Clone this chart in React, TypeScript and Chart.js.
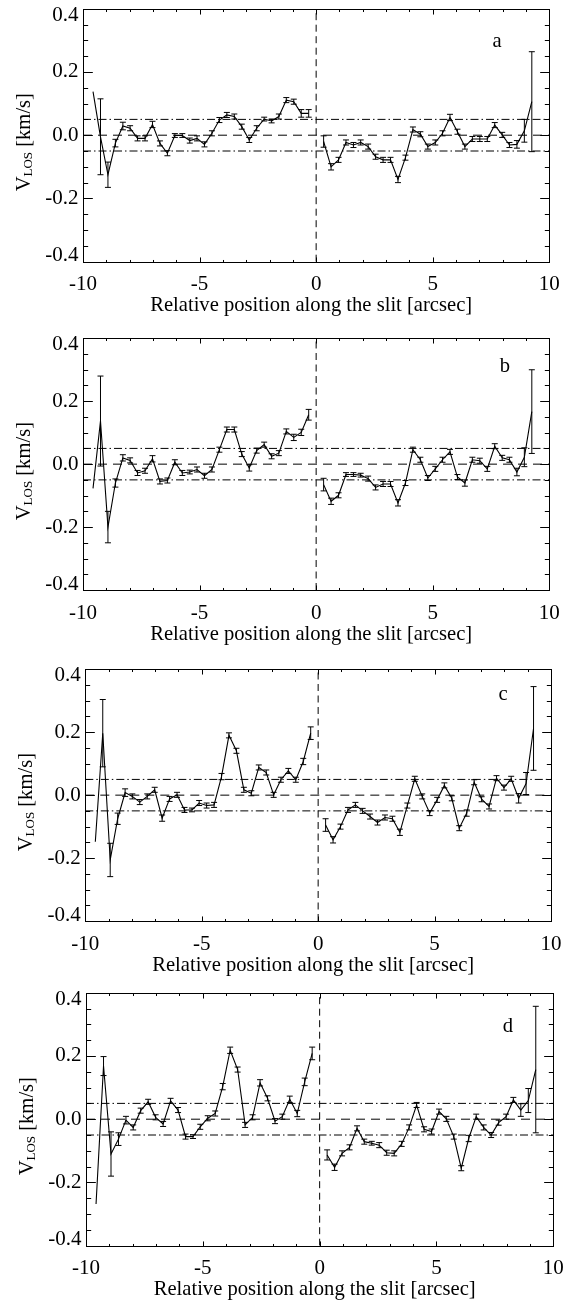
import { useEffect, useRef } from "react";
import { Chart, registerables } from "chart.js";

Chart.register(...registerables);

// Slit positions [arcsec] (the central pixel at 0 is not sampled)
const positions = [
  -9.57, -9.25, -8.93, -8.61, -8.29, -7.98, -7.66, -7.34, -7.02, -6.7,
  -6.38, -6.06, -5.74, -5.42, -5.11, -4.79, -4.47, -4.15, -3.83, -3.51,
  -3.19, -2.87, -2.55, -2.23, -1.91, -1.6, -1.28, -0.96, -0.64, -0.32,
  0.32, 0.64, 0.96, 1.28, 1.6, 1.91, 2.23, 2.55, 2.87, 3.19,
  3.51, 3.83, 4.15, 4.47, 4.79, 5.11, 5.42, 5.74, 6.06, 6.38,
  6.7, 7.02, 7.34, 7.66, 7.98, 8.29, 8.61, 8.93, 9.25,
];

// Line-of-sight velocities [km/s] and their errors, one pair per panel
const velA = [
  0.138, -0.005, -0.125, -0.025, 0.029, 0.022, -0.01, -0.01, 0.034, -0.026,
  -0.057, -0.001, -0.001, -0.017, -0.01, -0.029, 0.006, 0.048, 0.064, 0.059,
  0.027, -0.015, 0.022, 0.051, 0.045, 0.059, 0.111, 0.106, 0.069, 0.069,
  -0.02, -0.1, -0.078, -0.023, -0.031, -0.023, -0.036, -0.068, -0.078, -0.078,
  -0.14, -0.071, 0.018, 0.003, -0.036, -0.023, 0.006, 0.056, 0.011, -0.036,
  -0.012, -0.012, -0.012, 0.032, 0.001, -0.031, -0.029, 0.014, 0.106,
];
const errA = [
  0, 0.12, 0.04, 0.012, 0.012, 0.008, 0.008, 0.008, 0.01, 0.008,
  0.008, 0.006, 0.006, 0.008, 0.008, 0.008, 0.008, 0.008, 0.008, 0.008,
  0.008, 0.008, 0.008, 0.006, 0.006, 0.008, 0.008, 0.008, 0.012, 0.012,
  0.018, 0.01, 0.008, 0.008, 0.008, 0.008, 0.008, 0.008, 0.008, 0.008,
  0.01, 0.008, 0.008, 0.008, 0.008, 0.008, 0.008, 0.01, 0.008, 0.008,
  0.008, 0.008, 0.008, 0.008, 0.008, 0.008, 0.012, 0.036, 0.158,
];

const velB = [
  -0.077, 0.137, -0.2, -0.06, 0.02, 0.012, -0.028, -0.021, 0.017, -0.055,
  -0.052, 0.006, -0.028, -0.025, -0.017, -0.037, -0.017, 0.046, 0.11, 0.11,
  0.032, -0.012, 0.043, 0.062, 0.025, 0.035, 0.104, 0.085, 0.101, 0.157,
  -0.065, -0.118, -0.099, -0.033, -0.033, -0.035, -0.046, -0.074, -0.063, -0.063,
  -0.123, -0.06, 0.046, 0.014, -0.044, -0.015, 0.014, 0.039, -0.041, -0.06,
  0.014, 0.011, -0.015, 0.057, 0.02, 0.014, -0.025, 0.022, 0.167,
];
const errB = [
  0, 0.143, 0.05, 0.013, 0.01, 0.008, 0.008, 0.008, 0.01, 0.008,
  0.008, 0.008, 0.008, 0.006, 0.008, 0.008, 0.008, 0.008, 0.008, 0.008,
  0.008, 0.01, 0.008, 0.008, 0.008, 0.008, 0.008, 0.01, 0.01, 0.017,
  0.02, 0.01, 0.008, 0.006, 0.006, 0.006, 0.008, 0.008, 0.008, 0.008,
  0.01, 0.008, 0.008, 0.008, 0.008, 0.008, 0.008, 0.008, 0.008, 0.01,
  0.008, 0.008, 0.008, 0.008, 0.008, 0.008, 0.012, 0.03, 0.133,
];

const velC = [
  -0.148, 0.197, -0.206, -0.075, 0.008, -0.004, -0.022, -0.004, 0.017, -0.073,
  -0.012, 0.001, -0.047, -0.047, -0.025, -0.033, -0.031, 0.059, 0.19, 0.141,
  0.017, 0.006, 0.088, 0.072, 0.001, 0.049, 0.077, 0.049, 0.107, 0.197,
  -0.095, -0.142, -0.1, -0.047, -0.031, -0.05, -0.068, -0.087, -0.071, -0.075,
  -0.118, -0.033, 0.052, -0.004, -0.057, -0.015, 0.031, -0.01, -0.105, -0.057,
  0.041, -0.013, -0.036, 0.054, 0.024, 0.052, -0.01, 0.037, 0.212,
];
const errC = [
  0, 0.107, 0.053, 0.018, 0.012, 0.008, 0.008, 0.008, 0.008, 0.01,
  0.008, 0.008, 0.008, 0.006, 0.008, 0.008, 0.008, 0.01, 0.008, 0.008,
  0.008, 0.008, 0.008, 0.008, 0.008, 0.008, 0.008, 0.008, 0.01, 0.02,
  0.02, 0.01, 0.008, 0.008, 0.008, 0.008, 0.008, 0.008, 0.008, 0.008,
  0.01, 0.008, 0.008, 0.008, 0.008, 0.008, 0.008, 0.008, 0.008, 0.01,
  0.008, 0.008, 0.008, 0.008, 0.008, 0.008, 0.015, 0.035, 0.133,
];

const velD = [
  -0.268, 0.168, -0.11, -0.063, -0.003, -0.026, 0.027, 0.055, 0.006, -0.015,
  0.058, 0.029, -0.055, -0.055, -0.024, 0.003, 0.018, 0.103, 0.218, 0.157,
  -0.018, 0.006, 0.115, 0.066, -0.006, 0.008, 0.063, 0.018, 0.118, 0.208,
  -0.113, -0.152, -0.108, -0.089, -0.029, -0.071, -0.076, -0.082, -0.106, -0.108,
  -0.078, -0.026, 0.045, -0.032, -0.039, 0.024, 0.001, -0.055, -0.155, -0.061,
  0.008, -0.026, -0.05, -0.011, 0.008, 0.061, 0.029, 0.059, 0.157,
];
const errD = [
  0, 0.03, 0.07, 0.02, 0.012, 0.008, 0.008, 0.008, 0.008, 0.008,
  0.008, 0.008, 0.008, 0.006, 0.008, 0.008, 0.008, 0.01, 0.01, 0.008,
  0.008, 0.008, 0.01, 0.008, 0.008, 0.008, 0.01, 0.01, 0.012, 0.02,
  0.016, 0.01, 0.008, 0.008, 0.008, 0.008, 0.006, 0.008, 0.008, 0.008,
  0.008, 0.008, 0.008, 0.008, 0.008, 0.008, 0.008, 0.008, 0.008, 0.01,
  0.008, 0.008, 0.008, 0.008, 0.008, 0.008, 0.02, 0.038, 0.2,
];

const panelVel = [velA, velB, velC, velD];
const panelErr = [errA, errB, errC, errD];
const panelLetters = ["a", "b", "c", "d"];
const letterPosX = [7.76, 8.1, 7.94, 8.06];
const letterPosY = [0.28, 0.294, 0.302, 0.277];

const xTickValues = [-10, -5, 0, 5, 10];
const xTickLabels = ["-10", "-5", "0", "5", "10"];
const yTickValues = [-0.4, -0.2, 0, 0.2, 0.4];
const yTickLabels = ["-0.4", "-0.2", "0.0", "0.2", "0.4"];
const noiseLevel = 0.05;

const X_TITLE = "Relative position along the slit [arcsec]";
const SERIF = '"Liberation Serif", "Times New Roman", serif';
const TICK_FONT = "21px " + SERIF;
const TITLE_FONT = "20.6px " + SERIF;
const SUB_FONT = "13px " + SERIF;

// Page placement of each panel's canvas and plot box (pixels)
const frames = [
  { top: 0, height: 325, left: 83, right: 549.3, plotTop: 8.7, plotBottom: 261.7 },
  { top: 325, height: 330, left: 83, right: 549.3, plotTop: 338.3, plotBottom: 590 },
  { top: 655, height: 323, left: 85.3, right: 551, plotTop: 669.3, plotBottom: 921 },
  { top: 978, height: 326, left: 86, right: 553.3, plotTop: 992.7, plotBottom: 1245.7 },
];
const PAGE_W = 563;

function makeDecorPlugin(idx: number) {
  return {
    id: "panelDecor" + idx,
    afterDatasetsDraw(chart: any) {
      const ctx = chart.ctx as CanvasRenderingContext2D;
      const ca = chart.chartArea;
      const xs = chart.scales.x;
      const ys = chart.scales.y;
      const vel = panelVel[idx];
      const err = panelErr[idx];

      ctx.save();
      // error bars with caps
      ctx.strokeStyle = "#000";
      ctx.lineWidth = 1;
      ctx.beginPath();
      for (let i = 0; i < positions.length; i++) {
        const e = err[i];
        if (!e) continue;
        const px = xs.getPixelForValue(positions[i]);
        const y1 = ys.getPixelForValue(vel[i] + e);
        const y2 = ys.getPixelForValue(vel[i] - e);
        ctx.moveTo(px, y1);
        ctx.lineTo(px, y2);
        ctx.moveTo(px - 3, y1);
        ctx.lineTo(px + 3, y1);
        ctx.moveTo(px - 3, y2);
        ctx.lineTo(px + 3, y2);
      }
      ctx.stroke();

      // plot frame
      const L = Math.round(ca.left) + 0.5;
      const R = Math.round(ca.right) + 0.5;
      const T = Math.round(ca.top) + 0.5;
      const B = Math.round(ca.bottom) + 0.5;
      ctx.strokeRect(L, T, R - L, B - T);

      // inward ticks on all four sides
      const h = ca.bottom - ca.top;
      const w = ca.right - ca.left;
      const xMaj = 0.02 * h;
      const yMaj = 0.02 * w;
      ctx.beginPath();
      for (let v = -10; v <= 10; v += 1) {
        const px = Math.round(xs.getPixelForValue(v)) + 0.5;
        const len = v % 5 === 0 ? xMaj : xMaj / 2;
        ctx.moveTo(px, B);
        ctx.lineTo(px, B - len);
        ctx.moveTo(px, T);
        ctx.lineTo(px, T + len);
      }
      for (let k = -8; k <= 8; k++) {
        const py = Math.round(ys.getPixelForValue(k * 0.05)) + 0.5;
        const len = k % 4 === 0 ? yMaj : yMaj / 2;
        ctx.moveTo(L, py);
        ctx.lineTo(L + len, py);
        ctx.moveTo(R, py);
        ctx.lineTo(R - len, py);
      }
      ctx.stroke();

      // tick labels
      ctx.fillStyle = "#000";
      ctx.font = TICK_FONT;
      ctx.textAlign = "center";
      ctx.textBaseline = "alphabetic";
      xTickValues.forEach((v, i) => {
        ctx.fillText(xTickLabels[i], xs.getPixelForValue(v), ca.bottom + 28.5);
      });
      ctx.textAlign = "right";
      ctx.textBaseline = "middle";
      yTickValues.forEach((v, i) => {
        let py = ys.getPixelForValue(v);
        py = Math.min(Math.max(py, ca.top + 6.5), ca.bottom - 6);
        ctx.fillText(yTickLabels[i], ca.left - 4.5, py);
      });

      // x-axis title
      ctx.font = TITLE_FONT;
      ctx.textAlign = "center";
      ctx.textBaseline = "alphabetic";
      ctx.fillText(X_TITLE, (ca.left + ca.right) / 2 - 5, ca.bottom + 49.5);

      // y-axis title with subscript
      const main1 = "V";
      const sub = "LOS";
      const main2 = " [km/s]";
      ctx.font = TITLE_FONT;
      const w1 = ctx.measureText(main1).width;
      const w3 = ctx.measureText(main2).width;
      ctx.font = SUB_FONT;
      const w2 = ctx.measureText(sub).width;
      const total = w1 + w2 + w3;
      ctx.translate(ca.left - 53, (ca.top + ca.bottom) / 2 + 7);
      ctx.rotate(-Math.PI / 2);
      ctx.textAlign = "left";
      let tx = -total / 2;
      ctx.font = TITLE_FONT;
      ctx.fillText(main1, tx, 0);
      tx += w1;
      ctx.font = SUB_FONT;
      ctx.fillText(sub, tx, 2);
      tx += w2;
      ctx.font = TITLE_FONT;
      ctx.fillText(main2, tx, 0);
      ctx.restore();

      // panel letter
      ctx.save();
      ctx.fillStyle = "#000";
      ctx.font = TITLE_FONT;
      ctx.textAlign = "center";
      ctx.textBaseline = "alphabetic";
      ctx.fillText(
        panelLetters[idx],
        xs.getPixelForValue(letterPosX[idx]),
        ys.getPixelForValue(letterPosY[idx])
      );
      ctx.restore();
    },
  };
}

function Panel({ idx }: { idx: number }) {
  const ref = useRef<HTMLCanvasElement | null>(null);
  const f = frames[idx];

  useEffect(() => {
    if (!ref.current) return;
    const vel = panelVel[idx];
    const left: { x: number; y: number }[] = [];
    const right: { x: number; y: number }[] = [];
    positions.forEach((x, i) => {
      (x < 0 ? left : right).push({ x, y: vel[i] });
    });
    const refLine = (pts: { x: number; y: number }[], dash: number[]) => ({
      data: pts,
      showLine: true,
      borderColor: "#000",
      borderWidth: 1,
      borderDash: dash,
      pointRadius: 0,
    });
    const dashDot = [8, 3, 1.5, 3];
    const chart = new Chart(ref.current, {
      type: "scatter",
      data: {
        datasets: [
          refLine([{ x: -10, y: 0 }, { x: 10, y: 0 }], [9, 6]),
          refLine([{ x: -10, y: noiseLevel }, { x: 10, y: noiseLevel }], dashDot),
          refLine([{ x: -10, y: -noiseLevel }, { x: 10, y: -noiseLevel }], dashDot),
          refLine([{ x: 0, y: -0.4 }, { x: 0, y: 0.4 }], [7, 4.5]),
          {
            data: left,
            showLine: true,
            borderColor: "#000",
            borderWidth: 1.1,
            pointRadius: 0,
          },
          {
            data: right,
            showLine: true,
            borderColor: "#000",
            borderWidth: 1.1,
            pointRadius: 0,
          },
        ],
      } as any,
      options: {
        animation: false,
        responsive: false,
        events: [],
        layout: {
          padding: {
            left: f.left,
            right: PAGE_W - f.right,
            top: f.plotTop - f.top,
            bottom: f.top + f.height - f.plotBottom,
          },
        },
        scales: {
          x: { type: "linear", min: -10, max: 10, display: false },
          y: { type: "linear", min: -0.4, max: 0.4, display: false },
        },
        plugins: {
          legend: { display: false },
          tooltip: { enabled: false },
        },
      },
      plugins: [makeDecorPlugin(idx)],
    });
    return () => chart.destroy();
  }, [idx]);

  return (
    <canvas
      ref={ref}
      width={PAGE_W}
      height={f.height}
      style={{ position: "absolute", left: 0, top: f.top, width: PAGE_W, height: f.height }}
    />
  );
}

export default function App() {
  return (
    <div style={{ position: "absolute", left: 0, top: 0, width: PAGE_W, height: 1304, background: "#fff" }}>
      {frames.map((_, i) => (
        <Panel key={i} idx={i} />
      ))}
    </div>
  );
}
